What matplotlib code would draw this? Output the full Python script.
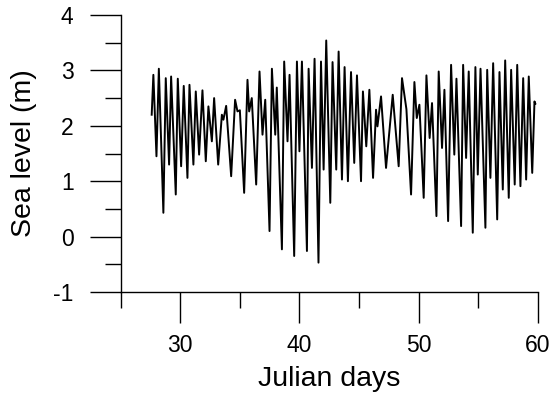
import matplotlib
matplotlib.use("Agg")
import matplotlib.pyplot as plt
from matplotlib.ticker import MultipleLocator

plt.rcParams['font.family'] = ['Liberation Sans', 'DejaVu Sans']
plt.rcParams['axes.unicode_minus'] = False

# turning points of the record (day, sea level in m)
days = [27.60, 27.74, 28.00, 28.20, 28.58, 28.78, 29.06, 29.23, 29.62, 29.79,
        30.07, 30.29, 30.60, 30.77, 31.10, 31.30, 31.58, 31.86, 32.14, 32.36,
        32.65, 32.84, 33.18, 33.49, 33.62, 33.85, 34.27, 34.60, 34.80, 35.00,
        35.36, 35.64, 35.78, 36.00, 36.37, 36.65, 36.90, 37.13, 37.49, 37.69,
        37.97, 38.10, 38.53, 38.72, 39.00, 39.17, 39.56, 39.79, 40.00, 40.21,
        40.63, 40.77, 41.05, 41.27, 41.60, 41.81, 42.03, 42.25, 42.59, 42.78,
        43.09, 43.29, 43.57, 43.79, 44.07, 44.33, 44.60, 44.83, 45.17, 45.33,
        45.61, 45.87, 46.18, 46.43, 46.55, 46.85, 47.27, 47.83, 48.33, 48.61,
        48.98, 49.37, 49.65, 49.85, 50.07, 50.43, 50.66, 50.93, 51.13, 51.50,
        51.69, 51.97, 52.17, 52.48, 52.73, 53.00, 53.18, 53.57, 53.74, 53.99,
        54.21, 54.55, 54.77, 54.97, 55.20, 55.61, 55.76, 56.03, 56.26, 56.60,
        56.79, 57.07, 57.27, 57.57, 57.77, 58.07, 58.28, 58.55, 58.78, 59.03,
        59.25, 59.54, 59.73, 59.80]
level = [2.20, 2.92, 1.45, 3.03, 0.43, 2.86, 1.30, 2.89, 0.76, 2.85,
         1.27, 2.72, 1.06, 2.74, 1.30, 2.62, 1.48, 2.64, 1.36, 2.35,
         1.72, 2.50, 1.30, 2.20, 2.11, 2.36, 1.09, 2.47, 2.26, 2.28,
         0.79, 2.83, 2.26, 2.50, 0.94, 2.98, 1.84, 2.47, 0.10, 3.03,
         1.84, 2.69, -0.23, 3.16, 1.72, 2.92, -0.35, 3.16, 1.54, 3.16,
         -0.26, 3.03, 1.24, 3.21, -0.47, 3.16, 1.21, 3.54, 0.61, 3.15,
         1.21, 3.34, 1.03, 3.06, 1.00, 2.97, 1.33, 2.91, 1.00, 2.62,
         1.63, 2.65, 1.06, 2.29, 1.99, 2.53, 1.24, 2.56, 1.27, 2.86,
         2.30, 0.76, 2.79, 2.14, 2.38, 0.70, 2.91, 1.78, 2.41, 0.37,
         2.98, 1.60, 2.65, 0.28, 3.10, 1.48, 2.85, 0.19, 3.10, 1.42,
         2.98, 0.07, 3.06, 1.12, 3.03, 0.16, 3.01, 1.06, 3.13, 0.31,
         2.97, 0.85, 3.18, 0.70, 3.01, 0.94, 3.10, 0.91, 2.86, 1.03,
         2.89, 1.15, 2.44, 2.40]

fig = plt.figure(figsize=(5.52, 4.0), dpi=100)
ax = fig.add_axes([0.2187, 0.27, 0.7554, 0.6925])

ax.plot(days, level, color='black', lw=1.4, solid_joinstyle='round')

ax.set_xlim(25, 60)
ax.set_ylim(-1, 4)
ax.xaxis.set_major_locator(MultipleLocator(10))
ax.xaxis.set_minor_locator(MultipleLocator(5))
ax.yaxis.set_major_locator(MultipleLocator(1))
ax.yaxis.set_minor_locator(MultipleLocator(0.5))
ax.set_xticks([30, 40, 50, 60])

for s in ['top', 'right']:
    ax.spines[s].set_visible(False)
for s in ['left', 'bottom']:
    ax.spines[s].set_linewidth(1.0)
    ax.spines[s].set_clip_on(False)

ax.tick_params(which='major', direction='out', length=22, width=1.0,
               labelsize=16.5)
ax.tick_params(axis='x', which='major', pad=8)
ax.tick_params(axis='y', which='major', pad=12)
ax.tick_params(which='minor', direction='out', length=11.5, width=1.0)

ax.set_xlabel('Julian days', fontsize=20.5, labelpad=7)
ax.set_ylabel('Sea level (m)', fontsize=20.5)
ax.yaxis.set_label_coords(-0.2, 0.5)

fig.savefig('out.png', dpi=100)
